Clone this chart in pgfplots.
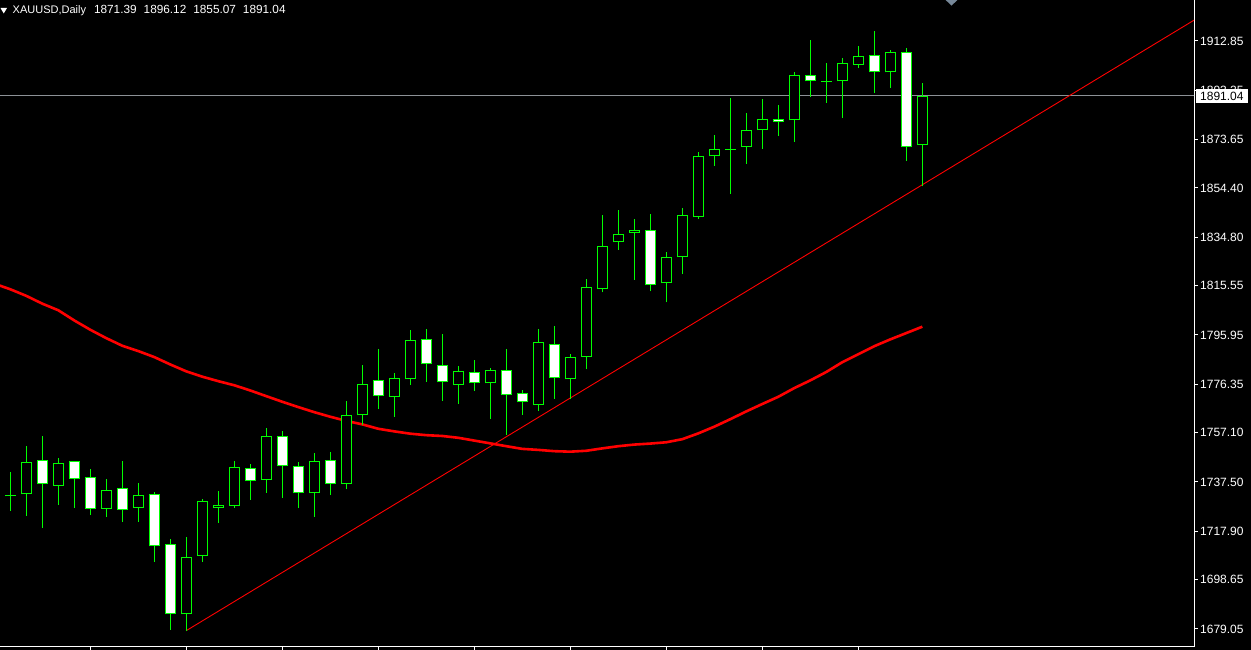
\documentclass[border=0pt]{standalone}
\usepackage{pgfplots}
\pgfplotsset{compat=1.18}
\usepackage{pgfplotstable}
\usepackage{fontspec}
\setmainfont{Liberation Sans}

\definecolor{mtgreen}{RGB}{0,255,0}
\definecolor{mtred}{RGB}{255,0,0}
\definecolor{bidgray}{RGB}{140,145,150}
\definecolor{shiftgray}{RGB}{119,136,153}

% daily candles
\pgfplotstableread{
i  o       h       l       c
0  1731.8  1741.5  1726.1  1731.8
1  1732.6  1751.8  1724.1  1745.3
2  1746.1  1755.8  1719.3  1736.6
3  1736.0  1747.0  1728.4  1744.9
4  1745.7  1745.9  1727.3  1738.8
5  1739.4  1742.7  1724.4  1726.9
6  1726.9  1738.7  1723.6  1734.2
7  1735.0  1745.8  1721.6  1726.5
8  1727.3  1737.1  1721.6  1732.2
9  1732.6  1733.6  1705.8  1711.9
10 1712.7  1714.8  1678.8  1684.9
11 1684.9  1715.6  1678.4  1707.6
12 1708.0  1730.7  1705.8  1729.8
13 1727.0  1733.9  1721.3  1728.2
14 1728.1  1745.8  1727.3  1743.3
15 1742.9  1744.7  1730.5  1737.8
16 1738.2  1759.0  1733.2  1755.7
17 1755.7  1757.8  1731.3  1743.7
18 1743.7  1745.3  1727.3  1733.0
19 1733.0  1749.0  1723.7  1745.7
20 1746.1  1749.4  1732.5  1736.6
21 1736.6  1769.7  1734.6  1764.0
22 1764.0  1784.0  1760.2  1776.3
23 1777.9  1790.4  1766.6  1771.6
24 1771.2  1780.8  1763.5  1778.7
25 1778.3  1797.9  1776.2  1793.8
26 1794.2  1798.3  1777.4  1784.3
27 1783.9  1796.3  1769.8  1777.1
28 1775.9  1783.6  1768.6  1781.5
29 1781.1  1786.0  1773.8  1776.7
30 1776.7  1782.7  1762.7  1781.9
31 1781.9  1790.4  1756.3  1772.0
32 1772.8  1774.1  1764.3  1769.2
33 1768.0  1798.3  1765.9  1793.0
34 1792.2  1799.5  1770.6  1778.7
35 1778.3  1788.3  1770.4  1787.1
36 1787.1  1818.2  1782.3  1814.9
37 1814.1  1843.7  1812.9  1831.2
38 1832.8  1845.7  1829.9  1836.0
39 1836.4  1842.1  1817.9  1837.6
40 1837.6  1844.1  1813.3  1815.7
41 1816.5  1828.9  1808.9  1826.8
42 1826.8  1846.4  1820.1  1843.5
43 1842.7  1868.7  1842.2  1867.0
44 1867.0  1875.5  1863.3  1869.8
45 1869.4  1890.2  1852.1  1869.4
46 1870.6  1884.1  1864.1  1877.3
47 1877.3  1889.7  1870.0  1881.7
48 1882.0  1887.3  1875.2  1880.7
49 1881.3  1900.4  1872.8  1899.2
50 1899.2  1913.2  1890.7  1896.8
51 1896.8  1904.0  1888.3  1896.5
52 1896.8  1906.0  1882.4  1904.0
53 1903.2  1910.7  1902.2  1906.8
54 1907.2  1916.7  1892.3  1900.4
55 1900.4  1909.2  1894.3  1908.4
56 1908.4  1909.9  1865.3  1870.6
57 1871.39 1896.12 1855.07 1891.04
}\ohlc

% moving average
\pgfplotstableread{
i  ma
-1 1816.35
0  1814.12
1  1811.50
2  1808.40
3  1805.77
4  1801.72
5  1798.02
6  1794.68
7  1791.66
8  1789.55
9  1787.16
10 1784.22
11 1781.48
12 1779.37
13 1777.58
14 1775.95
15 1773.88
16 1771.62
17 1769.39
18 1767.28
19 1765.25
20 1763.43
21 1761.80
22 1760.40
23 1758.65
24 1757.62
25 1756.70
26 1756.11
27 1755.79
28 1755.07
29 1753.96
30 1752.85
31 1751.73
32 1750.66
33 1750.26
34 1749.75
35 1749.55
36 1749.91
37 1750.86
38 1751.73
39 1752.37
40 1752.77
41 1753.29
42 1754.52
43 1756.83
44 1759.49
45 1762.47
46 1765.57
47 1768.51
48 1771.38
49 1774.84
50 1777.90
51 1781.24
52 1785.13
53 1788.32
54 1791.50
55 1794.20
56 1796.71
57 1799.25
}\ma

\begin{document}
\begin{tikzpicture}
\fill[black] (0,-3pt) rectangle (1251pt,647pt);
\begin{axis}[
    at={(0,0)}, anchor=south west,
    scale only axis, width=1194pt, height=647pt,
    xmin=-0.644, xmax=73.98,
    ymin=1671.89, ymax=1929.14,
    axis x line=bottom, axis y line=right,
    axis line style={-, white, line width=1pt},
    tick align=outside, major tick length=4pt,
    tick style={white, line width=1pt},
    xtick={5,11,...,53}, xticklabels={},
    ytick={1679.05,1698.65,1717.90,1737.50,1757.10,1776.35,1795.95,1815.55,1834.80,1854.40,1873.65,1893.25,1912.85},
    yticklabels={1679.05,1698.65,1717.90,1737.50,1757.10,1776.35,1795.95,1815.55,1834.80,1854.40,1873.65,1893.25,1912.85},
    yticklabel style={text=white, font=\fontsize{12}{14}\selectfont, inner xsep=2pt},
]
% bid line
\addplot[bidgray, line width=1pt, forget plot] coordinates {(-1,1891.04) (75,1891.04)};
% moving average
\addplot[mtred, line width=2.6pt, mark=none, forget plot] table[x=i, y=ma] {\ma};
% trend line
\addplot[mtred, line width=0.9pt, forget plot] coordinates {(11,1678.4) (76,1928.9)};
% wicks
\addplot[mtgreen, line width=1pt, -, mark=none, forget plot,
    quiver={u=0, v={\thisrow{h}-\thisrow{l}}}]
    table[x=i, y=l] {\ohlc};
% body outline
\addplot[mtgreen, line width=11pt, -, mark=none, forget plot,
    quiver={u=0, v={max(abs(\thisrow{c}-\thisrow{o}),0.5)}}]
    table[x=i, y expr={min(\thisrow{o},\thisrow{c})}] {\ohlc};
% bull bodies (black inside)
\addplot[black, line width=9pt, -, mark=none, forget plot,
    quiver={u=0, v={max(\thisrow{c}-\thisrow{o}-0.8,0)}}]
    table[x=i, y expr={\thisrow{c}>\thisrow{o} ? \thisrow{o}+0.4 : nan}] {\ohlc};
% bear bodies (white inside)
\addplot[white, line width=9pt, -, mark=none, forget plot,
    quiver={u=0, v={max(\thisrow{o}-\thisrow{c}-0.8,0)}}]
    table[x=i, y expr={\thisrow{c}<\thisrow{o} ? \thisrow{c}+0.4 : nan}] {\ohlc};
\coordinate (bid) at (axis cs:73.98,1891.04);
\end{axis}
% bid price tag on the price scale
\node[anchor=west, fill=white, text=black, inner xsep=4.5pt, inner ysep=0pt,
    minimum height=14pt, text height=8.8pt, text depth=0pt,
    font=\fontsize{12}{14}\selectfont] at ([xshift=1.5pt]bid) {1891.04};
% header
\fill[white] (0.5pt,639pt) -- (7pt,639pt) -- (3.75pt,633.5pt) -- cycle;
\node[anchor=base west, inner sep=0pt, text=white]
    at (12.5pt,633pt) {\fontsize{11}{13}\selectfont XAUUSD,Daily\hspace{8pt}\fontsize{11.8}{13}\selectfont 1871.39\hspace{7pt}1896.12\hspace{7pt}1855.07\hspace{7pt}1891.04};
\fill[shiftgray] (945.7pt,647pt) -- (957.3pt,647pt) -- (951.5pt,641.3pt) -- cycle;
\pgfresetboundingbox
\path[use as bounding box] (0,-3pt) rectangle (1251pt,647pt);
\end{tikzpicture}
\end{document}
